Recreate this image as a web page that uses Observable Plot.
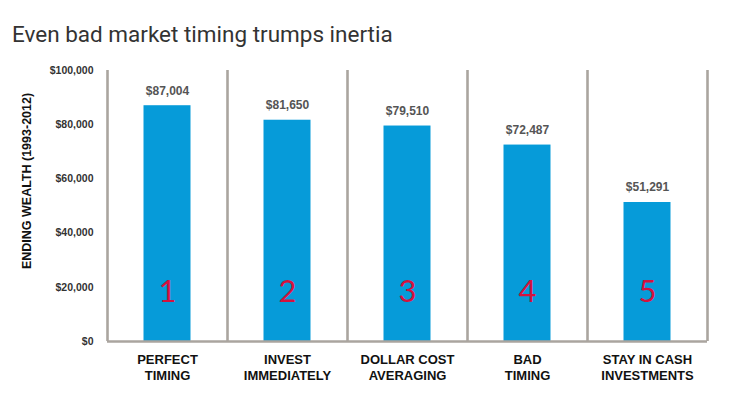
<!DOCTYPE html>
<html>
<head>
<meta charset="utf-8">
<script src="https://cdn.jsdelivr.net/npm/d3@7"></script>
<script src="https://cdn.jsdelivr.net/npm/@observablehq/plot@0.6"></script>
<style>
  html, body { margin: 0; padding: 0; background: #fff; }
  #wrap { position: relative; width: 739px; height: 399px; overflow: hidden; }
  #title { position: absolute; left: 12px; top: 23px; font-family: Roboto, "Open Sans", sans-serif; font-size: 22.5px; color: #333; line-height: 1; white-space: nowrap; }
  #chart { position: absolute; left: 0; top: 55px; }
</style>
</head>
<body>
<div id="wrap">
  <div id="title">Even bad market timing trumps inertia</div>
  <div id="chart"></div>
</div>
<script>
const categories = ["PERFECT\nTIMING", "INVEST\nIMMEDIATELY", "DOLLAR COST\nAVERAGING", "BAD\nTIMING", "STAY IN CASH\nINVESTMENTS"];
const values = [87004, 81650, 79510, 72487, 51291];
const ranks = ["1", "2", "3", "4", "5"];
const yTicks = [0, 20000, 40000, 60000, 80000, 100000];
const yLabel = "ENDING WEALTH (1993-2012)";

const data = categories.map((c, i) => ({cat: c, value: values[i], rank: ranks[i]}));

const W = 739, H = 344;
const mL = 107, mR = 32, mT = 15, mB = 58;
const band = (W - mL - mR) / categories.length;
const fmt = d => "$" + d3.format(",")(d);
const sepColor = "#aaa59f";
const font = "'Liberation Sans', Arial, sans-serif";

const chart = Plot.plot({
  width: W, height: H,
  marginLeft: mL, marginRight: mR, marginTop: mT, marginBottom: mB,
  style: {fontFamily: font, background: "#fff"},
  x: {domain: categories, padding: 0, axis: null},
  y: {domain: [0, 100000], axis: null},
  marks: [
    Plot.barY(data, {x: "cat", y: "value", fill: "#069bd9", insetLeft: 36.5, insetRight: 36.5}),
    Plot.ruleX(categories, {x: d => d, dx: -band / 2, y1: 0, y2: 100000, stroke: sepColor, strokeWidth: 2.6}),
    Plot.ruleX(categories.slice(-1), {x: d => d, dx: band / 2, y1: 0, y2: 100000, stroke: sepColor, strokeWidth: 2.6}),
    Plot.ruleY([0], {stroke: sepColor, strokeWidth: 2.6}),
    Plot.axisY({ticks: yTicks, tickFormat: fmt, tickSize: 0, tickPadding: 14, fontSize: 10.5, fontWeight: "bold", fill: "#333", label: null}),
    Plot.axisX({tickSize: 0, tickPadding: 10, fontSize: 13, fontWeight: "bold", fill: "#111", lineHeight: 1.3, label: null}),
    Plot.text(data, {x: "cat", y: "value", text: d => fmt(d.value), dy: -15, fontSize: 12, fontWeight: "bold", fill: "#555"}),
    Plot.text(data, {x: "cat", text: "rank", frameAnchor: "bottom", dy: -40, fontSize: 31, fontFamily: "Lato", fontWeight: 400, fill: "#d4123e"}),
    Plot.text([yLabel], {frameAnchor: "left", textAnchor: "middle", rotate: -90, dx: -81, dy: -25, fontSize: 12.5, fontWeight: "bold", fill: "#111"})
  ]
});
document.getElementById("chart").appendChild(chart);
</script>
</body>
</html>
